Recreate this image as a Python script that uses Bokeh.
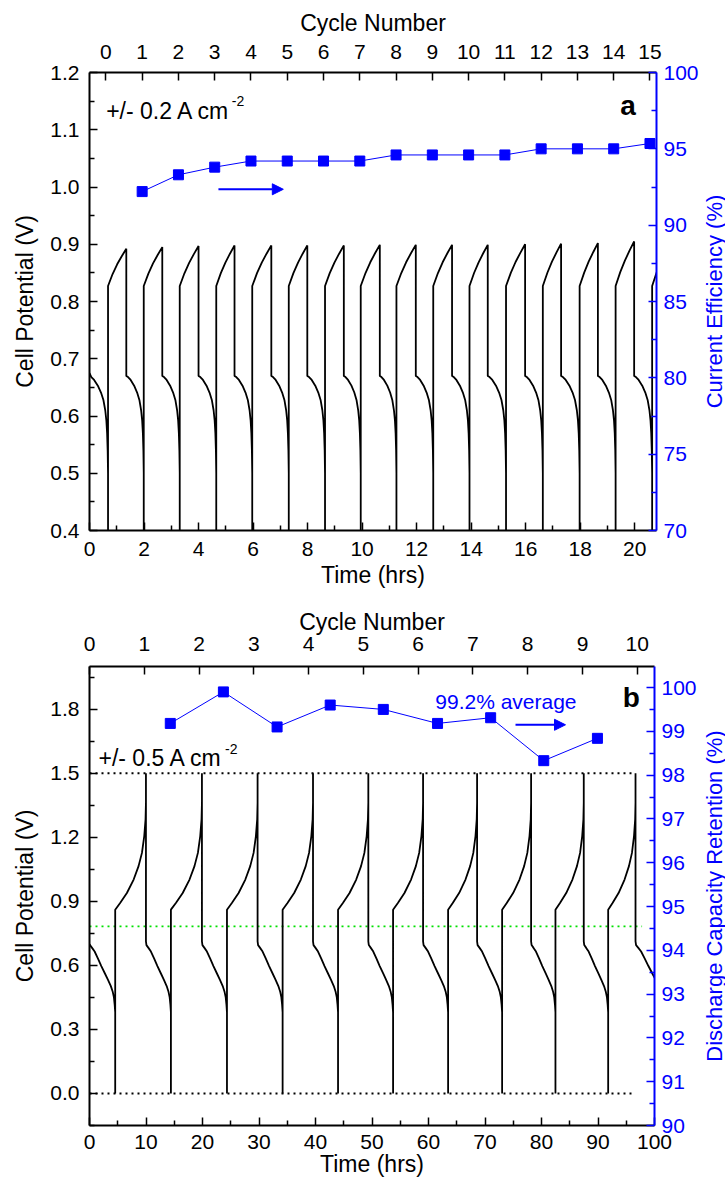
from bokeh.plotting import figure
from bokeh.models import (Range1d, LinearAxis, FixedTicker, PrintfTickFormatter,
                          Label, Arrow, NormalHead)
from bokeh.layouts import column, row
from bokeh.embed import file_html
from bokeh.resources import INLINE
from bokeh.core.properties import value
import math

FONT = "Liberation Sans"
BLUE = "#0000ff"
BLACK = "#000000"
GREEN = "#00e000"

# ================= Panel a : +/- 0.2 A cm-2 =================
a_left_ticks = [0.4, 0.5, 0.6, 0.7, 0.8, 0.9, 1.0, 1.1, 1.2]
a_left_minor = [0.45, 0.55, 0.65, 0.75, 0.85, 0.95, 1.05, 1.15]
a_time_ticks = [0, 2, 4, 6, 8, 10, 12, 14, 16, 18, 20]
a_time_minor = [1, 3, 5, 7, 9, 11, 13, 15, 17, 19]
a_ce_ticks = [70, 75, 80, 85, 90, 95, 100]
a_ce_minor = [72.5, 77.5, 82.5, 87.5, 92.5, 97.5]
a_cycle_ticks = list(range(0, 16))

# times (h) at which each charge starts (= end of previous discharge) and ends
a_charge_start = [0.68, 1.99, 3.31, 4.65, 5.97, 7.31, 8.64, 9.95, 11.26, 12.61,
                  13.94, 15.28, 16.63, 17.98, 19.30, 20.64]
a_charge_end = [1.35, 2.67, 4.00, 5.32, 6.67, 7.99, 9.33, 10.65, 11.97, 13.30,
                14.61, 15.98, 17.30, 18.65, 19.98, 21.32]
a_charge_peak = [0.892, 0.895, 0.897, 0.898, 0.898, 0.898, 0.898, 0.899, 0.899, 0.899,
                 0.899, 0.900, 0.901, 0.902, 0.905, 0.905]
# typical charge / discharge profile (fraction of step, volts)
a_charge_frac = [0.0, 0.25, 0.5, 0.75, 1.0]
a_charge_volt = [0.827, 0.848, 0.865, 0.879, 0.892]
a_dis_frac = [0.0, 0.10, 0.25, 0.45, 0.62, 0.75, 0.85, 0.91, 0.95, 0.98, 1.0]
a_dis_volt = [0.670, 0.668, 0.663, 0.653, 0.641, 0.628, 0.610, 0.592, 0.570, 0.540, 0.500]
a_first_volt = 0.675
a_cutoff_volt = 0.38

a_ce_cycle = list(range(1, 16))
a_ce = [92.2, 93.3, 93.8, 94.2, 94.2, 94.2, 94.2, 94.6, 94.6, 94.6, 94.6,
        95.0, 95.0, 95.0, 95.35]

# ================= Panel b : +/- 0.5 A cm-2 =================
b_left_ticks = [0.0, 0.3, 0.6, 0.9, 1.2, 1.5, 1.8]
b_left_minor = [-0.15, 0.15, 0.45, 0.75, 1.05, 1.35, 1.65, 1.95]
b_time_ticks = [0, 10, 20, 30, 40, 50, 60, 70, 80, 90, 100]
b_time_minor = [5, 15, 25, 35, 45, 55, 65, 75, 85, 95]
b_dcr_ticks = [90, 91, 92, 93, 94, 95, 96, 97, 98, 99, 100]
b_dcr_minor = [90.5, 91.5, 92.5, 93.5, 94.5, 95.5, 96.5, 97.5, 98.5, 99.5]
b_cycle_ticks = list(range(0, 11))

b_charge_start = [4.55, 14.41, 24.33, 34.18, 43.99, 53.73, 63.47, 73.03, 82.47, 91.80]
b_charge_end = [9.99, 19.90, 29.75, 39.56, 49.35, 59.04, 68.60, 78.16, 87.48, 96.64]
b_charge_peak = [1.50, 1.50, 1.50, 1.50, 1.50, 1.50, 1.50, 1.50, 1.50, 1.50]
b_last_dis_end = 101.6
b_charge_frac = [0.0, 0.16, 0.38, 0.60, 0.76, 0.87, 0.945, 0.987, 1.0, 1.0]
b_charge_volt = [0.861, 0.892, 0.939, 1.002, 1.065, 1.127, 1.206, 1.284, 1.362, 1.50]
b_dis_frac = [0.0, 0.02, 0.10, 0.20, 0.33, 0.46, 0.60, 0.72, 0.83, 0.90, 0.95, 0.98, 1.0]
b_dis_volt = [0.712, 0.695, 0.682, 0.665, 0.632, 0.597, 0.562, 0.532, 0.503, 0.478,
              0.450, 0.415, 0.380]
b_first_volt = 0.700
b_cutoff_volt = 0.0

b_dcr_time = [14.3, 23.7, 33.2, 42.6, 52.0, 61.6, 71.0, 80.4, 89.9]
b_dcr = [99.18, 99.90, 99.10, 99.60, 99.50, 99.18, 99.31, 98.33, 98.84]

b_guide_x = [0.0, 96.6]
b_guide_hi = [1.5, 1.5]
b_guide_lo = [0.0, 0.0]
b_guide_green_x = [0.0, 97.8]
b_guide_green = [0.783, 0.783]


def build_trace(first_v, starts, ends, peaks, ch_f, ch_v, dis_f, dis_v, cutoff, last_end):
    xs, ys = [], []
    t0, t1 = 0.0, starts[0]
    for k, (f, v) in enumerate(zip(dis_f, dis_v)):
        xs.append(t0 + f * (t1 - t0))
        ys.append(first_v if k == 0 else v)
    xs.append(t1)
    ys.append(cutoff)
    top = ch_v[-1]
    n = len(starts)
    for i in range(n):
        ts, te = starts[i], ends[i]
        for f, v in zip(ch_f, ch_v):
            xs.append(ts + f * (te - ts))
            ys.append(v + f * (peaks[i] - top))
        t_next = starts[i + 1] if i + 1 < n else last_end
        if t_next is None:
            break
        for f, v in zip(dis_f, dis_v):
            xs.append(te + f * (t_next - te))
            ys.append(v)
        xs.append(t_next)
        ys.append(cutoff)
    return xs, ys


def style_axis(ax, color, tick_standoff, label_standoff):
    ax.axis_line_color = color
    ax.axis_line_width = 2
    ax.major_tick_line_color = color
    ax.major_tick_line_width = 1.5
    ax.minor_tick_line_color = color
    ax.minor_tick_line_width = 1.5
    ax.major_tick_in = 8
    ax.major_tick_out = 0
    ax.minor_tick_in = 5
    ax.minor_tick_out = 0
    ax.major_label_text_font = FONT
    ax.major_label_text_font_size = "21px"
    ax.major_label_text_color = color
    ax.major_label_standoff = tick_standoff
    ax.axis_label_text_font = FONT
    ax.axis_label_text_font_size = "23px"
    ax.axis_label_text_font_style = "normal"
    ax.axis_label_text_color = color
    ax.axis_label_standoff = label_standoff


def base_fig(fw, fh, xr, yr, top, bottom, right):
    p = figure(frame_width=fw, frame_height=fh, x_range=xr, y_range=yr,
               output_backend="svg", toolbar_location=None,
               min_border_left=89, min_border_right=right,
               min_border_top=top, min_border_bottom=bottom,
               background_fill_color="white", border_fill_color="white",
               outline_line_color=None)
    p.grid.visible = False
    return p


def title_fig(text, fw, fh, top, bottom, xpos):
    t = figure(frame_width=fw, frame_height=fh, x_range=Range1d(-1, 1),
               y_range=Range1d(-1, 1), output_backend="svg", toolbar_location=None,
               x_axis_type=None, y_axis_type=None,
               min_border_left=0, min_border_right=0,
               min_border_top=top, min_border_bottom=bottom,
               background_fill_color="white", border_fill_color="white",
               outline_line_color=None)
    t.grid.visible = False
    t.text(x=[xpos], y=[0], text=[text], angle=math.pi / 2,
           text_font=value(FONT), text_font_size=value("22px"),
           text_align="center", text_baseline="middle", text_color=BLUE)
    return t


# ---------------- Figure a ----------------
p1 = base_fig(567, 458, Range1d(0, 20.8), Range1d(0.4, 1.2), 72, 58, 43)
p1.extra_y_ranges = {"ce": Range1d(70, 100)}
p1.extra_x_ranges = {"cyc": Range1d(-0.452, 15.18)}

xa = p1.xaxis[0]
xa.ticker = FixedTicker(ticks=a_time_ticks, minor_ticks=a_time_minor)
xa.axis_label = "Time (hrs)"
style_axis(xa, BLACK, 11, 3)

ya = p1.yaxis[0]
ya.ticker = FixedTicker(ticks=a_left_ticks, minor_ticks=a_left_minor)
ya.formatter = PrintfTickFormatter(format="%.1f")
ya.axis_label = "Cell Potential (V)"
style_axis(ya, BLACK, 10, 9)

ra = LinearAxis(y_range_name="ce",
                ticker=FixedTicker(ticks=a_ce_ticks, minor_ticks=a_ce_minor))
style_axis(ra, BLUE, 7, 0)
p1.add_layout(ra, "right")

ta = LinearAxis(x_range_name="cyc", axis_label="Cycle Number",
                ticker=FixedTicker(ticks=a_cycle_ticks, minor_ticks=[]))
style_axis(ta, BLACK, 14, 6)
p1.add_layout(ta, "above")

ax_x, ax_y = build_trace(a_first_volt, a_charge_start, a_charge_end, a_charge_peak,
                         a_charge_frac, a_charge_volt, a_dis_frac, a_dis_volt,
                         a_cutoff_volt, None)
p1.line(ax_x, ax_y, line_color=BLACK, line_width=1.8)

p1.line(a_ce_cycle, a_ce, x_range_name="cyc", y_range_name="ce",
        line_color=BLUE, line_width=1)
p1.scatter(a_ce_cycle, a_ce, x_range_name="cyc", y_range_name="ce",
           marker="square", size=10, fill_color=BLUE, line_color=BLUE)

p1.add_layout(Label(x=0.61, y=1.133, text="+/- 0.2 A cm", text_font=FONT,
                    text_font_size="23px", text_baseline="middle", text_align="left",
                    text_color=BLACK))
p1.add_layout(Label(x=5.22, y=1.151, text="-2", text_font=FONT,
                    text_font_size="14px", text_baseline="middle", text_align="left",
                    text_color=BLACK))
p1.add_layout(Label(x=19.76, y=1.143, text="a", text_font=FONT, text_font_size="28px",
                    text_font_style="bold", text_baseline="alphabetic",
                    text_align="center", text_color=BLACK))
p1.add_layout(Arrow(x_start=4.73, y_start=0.996, x_end=7.11, y_end=0.996,
                    line_color=BLUE, line_width=2,
                    end=NormalHead(size=11, fill_color=BLUE, line_color=BLUE)))

t1 = title_fig("Current Efficiency (%)", 26, 458, 72, 58, 0.0)

# ---------------- Figure b ----------------
p2 = base_fig(565, 459, Range1d(0, 100), Range1d(-0.15, 2.0), 76, 48, 43)
p2.extra_y_ranges = {"dcr": Range1d(90, 100.48)}
p2.extra_x_ranges = {"cyc": Range1d(0, 10.315)}

xb = p2.xaxis[0]
xb.ticker = FixedTicker(ticks=b_time_ticks, minor_ticks=b_time_minor)
xb.axis_label = "Time (hrs)"
style_axis(xb, BLACK, 9, -1)

yb = p2.yaxis[0]
yb.ticker = FixedTicker(ticks=b_left_ticks, minor_ticks=b_left_minor)
yb.formatter = PrintfTickFormatter(format="%.1f")
yb.axis_label = "Cell Potential (V)"
style_axis(yb, BLACK, 10, 9)

rb = LinearAxis(y_range_name="dcr",
                ticker=FixedTicker(ticks=b_dcr_ticks, minor_ticks=b_dcr_minor))
style_axis(rb, BLUE, 7, 0)
p2.add_layout(rb, "right")

tb = LinearAxis(x_range_name="cyc", axis_label="Cycle Number",
                ticker=FixedTicker(ticks=b_cycle_ticks, minor_ticks=[]))
style_axis(tb, BLACK, 16, -1)
p2.add_layout(tb, "above")

p2.line(b_guide_x, b_guide_hi, line_color=BLACK, line_width=1.8, line_dash="2 4")
p2.line(b_guide_x, b_guide_lo, line_color=BLACK, line_width=1.8, line_dash="2 4")
p2.line(b_guide_green_x, b_guide_green, line_color=GREEN, line_width=1.8, line_dash="2 4")

bx_x, bx_y = build_trace(b_first_volt, b_charge_start, b_charge_end, b_charge_peak,
                         b_charge_frac, b_charge_volt, b_dis_frac, b_dis_volt,
                         b_cutoff_volt, b_last_dis_end)
p2.line(bx_x, bx_y, line_color=BLACK, line_width=1.8)

p2.line(b_dcr_time, b_dcr, y_range_name="dcr", line_color=BLUE, line_width=1)
p2.scatter(b_dcr_time, b_dcr, y_range_name="dcr", marker="square", size=10,
           fill_color=BLUE, line_color=BLUE)

p2.add_layout(Label(x=1.59, y=1.573, text="+/- 0.5 A cm", text_font=FONT,
                    text_font_size="23px", text_baseline="middle", text_align="left",
                    text_color=BLACK))
p2.add_layout(Label(x=24.0, y=1.612, text="-2", text_font=FONT,
                    text_font_size="14px", text_baseline="middle", text_align="left",
                    text_color=BLACK))
p2.add_layout(Label(x=73.7, y=1.835, text="99.2% average", text_font=FONT,
                    text_font_size="21px", text_baseline="middle", text_align="center",
                    text_color=BLUE))
p2.add_layout(Label(x=95.9, y=1.853, text="b", text_font=FONT, text_font_size="28px",
                    text_font_style="bold", text_baseline="alphabetic",
                    text_align="center", text_color=BLACK))
p2.add_layout(Arrow(x_start=75.4, y_start=1.727, x_end=84.25, y_end=1.727,
                    line_color=BLUE, line_width=2,
                    end=NormalHead(size=11, fill_color=BLUE, line_color=BLUE)))

t2 = title_fig("Discharge Capacity Retention (%)", 28, 459, 76, 48, 0.07)

layout = column(row(p1, t1), row(p2, t2))
open("out.html", "w").write(file_html(layout, INLINE))
